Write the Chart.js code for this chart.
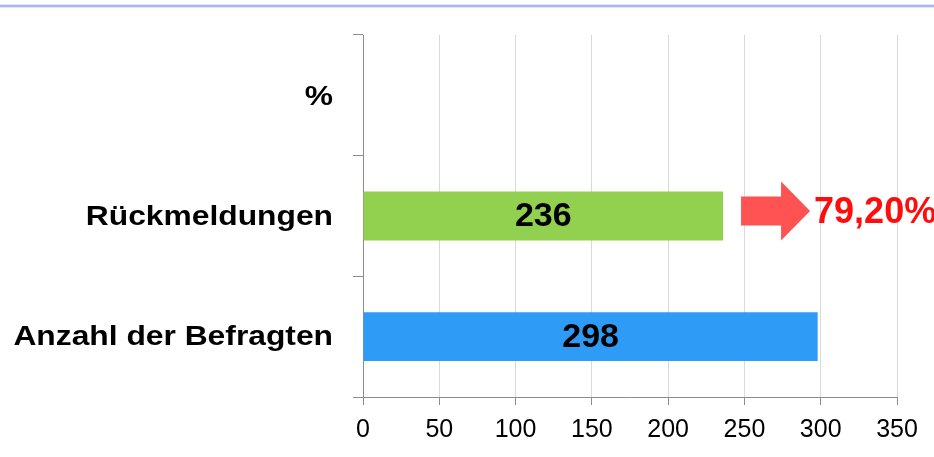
<!DOCTYPE html>
<html>
<head>
<meta charset="utf-8">
<script src="https://cdn.jsdelivr.net/npm/chart.js@4/dist/chart.umd.min.js"></script>
<style>
  html, body { margin: 0; padding: 0; background: #ffffff; }
  #wrap { width: 934px; height: 457px; position: relative; }
</style>
</head>
<body>
<div id="wrap"><canvas id="c" width="934" height="457"></canvas></div>
<script>
// ---- data ----
const categories = ["%", "Rückmeldungen", "Anzahl der Befragten"];
const values = [null, 236, 298];
const barColors = ["#92d050", "#92d050", "#2e9bf7"];
const ratioLabel = "79,20%";
const xMin = 0, xMax = 350, xStep = 50;

const FONT = "'Liberation Sans', Arial, sans-serif";

const topLinePlugin = {
  id: 'topLine',
  beforeDraw(chart) {
    const ctx = chart.ctx;
    ctx.save();
    ctx.fillStyle = '#ffffff';
    ctx.fillRect(0, 0, chart.width, chart.height);
    ctx.fillStyle = '#dfe4f7';
    ctx.fillRect(0, 4, chart.width, 4);
    ctx.fillStyle = '#aab7e8';
    ctx.fillRect(0, 5, chart.width, 2);
    ctx.restore();
  }
};

// category labels, drawn slightly widened like the original
const yLabelPlugin = {
  id: 'yLabels',
  afterDraw(chart) {
    const ctx = chart.ctx;
    const ys = chart.scales.y;
    ctx.save();
    ctx.font = "bold 28px " + FONT;
    ctx.fillStyle = '#000000';
    ctx.textAlign = 'right';
    ctx.textBaseline = 'middle';
    categories.forEach((lab, i) => {
      const y = ys.getPixelForValue(i);
      ctx.save();
      ctx.translate(ys.right - 30, y + (i === 0 ? 2 : 1));
      ctx.scale(1.135, 1);
      ctx.fillText(lab, 0, 0);
      ctx.restore();
    });
    ctx.restore();
  }
};

const valueLabelPlugin = {
  id: 'valueLabels',
  afterDatasetsDraw(chart) {
    const ctx = chart.ctx;
    const meta = chart.getDatasetMeta(0);
    ctx.save();
    ctx.font = "bold 34px " + FONT;
    ctx.fillStyle = '#000000';
    ctx.textAlign = 'center';
    ctx.textBaseline = 'middle';
    meta.data.forEach((bar, i) => {
      const v = values[i];
      if (v === null || v === undefined) return;
      const cx = (bar.base + bar.x) / 2;
      ctx.fillText(String(v), cx, bar.y + 1);
    });
    // arrow + ratio next to the "Rückmeldungen" bar
    const bar = meta.data[1];
    const yc = bar.y - 5;
    const x0 = bar.x + 18;
    const headStart = x0 + 40;
    const tip = x0 + 69;
    ctx.fillStyle = '#ff5252';
    ctx.beginPath();
    ctx.moveTo(x0, yc - 14.5);
    ctx.lineTo(headStart, yc - 14.5);
    ctx.lineTo(headStart, yc - 29.5);
    ctx.lineTo(tip, yc);
    ctx.lineTo(headStart, yc + 29.5);
    ctx.lineTo(headStart, yc + 14.5);
    ctx.lineTo(x0, yc + 14.5);
    ctx.closePath();
    ctx.fill();
    ctx.font = "bold 36px " + FONT;
    ctx.fillStyle = '#ff0d0d';
    ctx.textAlign = 'left';
    ctx.textBaseline = 'middle';
    ctx.fillText(ratioLabel, tip + 4, yc + 2);
    ctx.restore();
  }
};

new Chart(document.getElementById('c'), {
  type: 'bar',
  data: {
    labels: categories,
    datasets: [{
      data: values,
      backgroundColor: barColors,
      borderWidth: 0,
      barPercentage: 0.405,
      categoryPercentage: 1.0
    }]
  },
  options: {
    indexAxis: 'y',
    responsive: false,
    animation: false,
    devicePixelRatio: 1,
    layout: { padding: { top: 35, right: 37, bottom: 0, left: 0 } },
    plugins: {
      legend: { display: false },
      tooltip: { enabled: false },
      title: { display: false }
    },
    scales: {
      x: {
        type: 'linear',
        min: xMin,
        max: xMax,
        ticks: {
          stepSize: xStep,
          color: '#000000',
          font: { family: FONT, size: 25 },
          padding: 10
        },
        grid: {
          color: '#d9d9d9',
          tickColor: '#8c8c8c',
          tickLength: 8,
          lineWidth: 1
        },
        border: { color: '#8c8c8c', width: 1 },
        afterFit(scale) { scale.height = 60; }
      },
      y: {
        type: 'category',
        offset: true,
        ticks: { display: false },
        grid: {
          offset: true,
          drawOnChartArea: false,
          drawTicks: true,
          tickLength: 10,
          tickColor: '#8c8c8c'
        },
        border: { color: '#8c8c8c', width: 1 },
        afterFit(scale) { scale.width = 363; }
      }
    }
  },
  plugins: [topLinePlugin, yLabelPlugin, valueLabelPlugin]
});
</script>
</body>
</html>
